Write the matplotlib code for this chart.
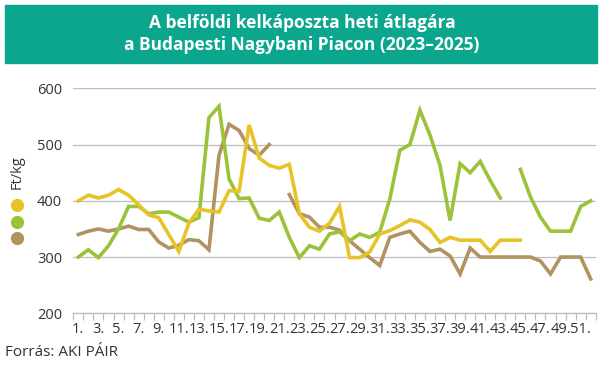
import matplotlib
matplotlib.use('Agg')
import matplotlib.pyplot as plt
from matplotlib.patches import Rectangle
from matplotlib.lines import Line2D
import numpy as np

weeks = list(range(1, 53))
week_labels = [f"{w}." if w % 2 == 1 else "" for w in weeks]

# yellow series (ends at week 45)
s_yellow = [400, 410, 405, 410, 420, 410, 393, 375, 370, 340,
            310, 360, 385, 382, 380, 418, 417, 535, 476, 463,
            458, 465, 377, 353, 346, 360, 390, 299, 299, 309,
            341, 347, 356, 366, 362, 349, 326, 335, 330, 330,
            330, 310, 330, 330, 330] + [None] * 7
# green series (week 44 missing)
s_green = [300, 313, 299, 320, 350, 390, 390, 377, 380, 380,
           371, 362, 370, 548, 568, 439, 404, 405, 369, 365,
           380, 335, 299, 320, 314, 341, 345, 329, 341, 335,
           344, 403, 490, 500, 561, 517, 463, 365, 466, 450,
           470, 436, 405, None, 456, 407, 371, 346, 346, 346,
           390, 400]
# brown series (week 21 missing)
s_brown = [340, 346, 350, 346, 350, 355, 349, 349, 327, 316,
           321, 331, 329, 313, 481, 536, 525, 493, 481, 500,
           None, 411, 377, 371, 353, 353, 348, 329, 314, 299,
           285, 335, 341, 346, 326, 310, 314, 302, 270, 316,
           300, 300, 300, 300, 300, 300, 293, 270, 300, 300,
           300, 261]

c_yellow = "#E6C326"
c_green = "#9CC23A"
c_brown = "#B09361"
teal = "#0AA68D"

fig = plt.figure(figsize=(6.04, 3.72), dpi=100)
ax = fig.add_axes([0.1214, 0.1578, 0.8649, 0.6048])

def arr(s):
    return np.array([np.nan if v is None else v for v in s], dtype=float)

for s, c in [(s_brown, c_brown), (s_green, c_green), (s_yellow, c_yellow)]:
    ax.plot(weeks, arr(s), color=c, lw=2.6, solid_joinstyle='miter')

ax.set_xlim(0.5, 52.5)
ax.set_ylim(200, 600)
ax.set_yticks([200, 300, 400, 500, 600])
ax.yaxis.grid(True, color="#BDBDBD", lw=0.9)
ax.set_axisbelow(True)
ax.tick_params(axis='y', length=0, labelsize=10.5, pad=8, colors="#333333")
ax.set_xticks(weeks)
ax.set_xticklabels(week_labels)
ax.set_xticks(np.arange(0.5, 53, 1), minor=True)
ax.tick_params(axis='x', which='major', length=0, labelsize=10.5, pad=6, colors="#333333")
ax.tick_params(axis='x', which='minor', length=5, color="#BDBDBD", width=0.9)
for sp in ['top', 'right', 'left']:
    ax.spines[sp].set_visible(False)
ax.spines['bottom'].set_color("#BDBDBD")
ax.spines['bottom'].set_linewidth(0.9)

# title banner
fig.patches.append(Rectangle((5 / 604, 1 - 63 / 372), 592 / 604, 58 / 372,
                             transform=fig.transFigure, color=teal, zorder=0))
fig.text(0.5, 1 - 34 / 372, "A belföldi kelkáposzta heti átlagára\na Budapesti Nagybani Piacon (2023–2025)",
         ha='center', va='center', color='white', fontsize=12.5, fontweight='bold',
         family=['Liberation Sans Narrow', 'Open Sans'], linespacing=1.35)

# y label and legend dots
fig.text(17 / 604, 1 - 172 / 372, "Ft/kg", rotation=90, ha='center', va='center',
         fontsize=10.5, color="#333333", family='Open Sans')
for yy, c in [(205, c_yellow), (222, c_green), (238, c_brown)]:
    fig.add_artist(Line2D([17 / 604], [1 - yy / 372], marker='o', markersize=8.5,
                          color=c, transform=fig.transFigure))

fig.text(5 / 604, 1 - 352 / 372, "Forrás: AKI PÁIR", ha='left', va='center',
         fontsize=11, color="#333333", family='Open Sans')

plt.rcParams['font.family'] = 'Open Sans'
for lab in ax.get_xticklabels() + ax.get_yticklabels():
    lab.set_family('Open Sans')

fig.savefig("out.png", dpi=100)
